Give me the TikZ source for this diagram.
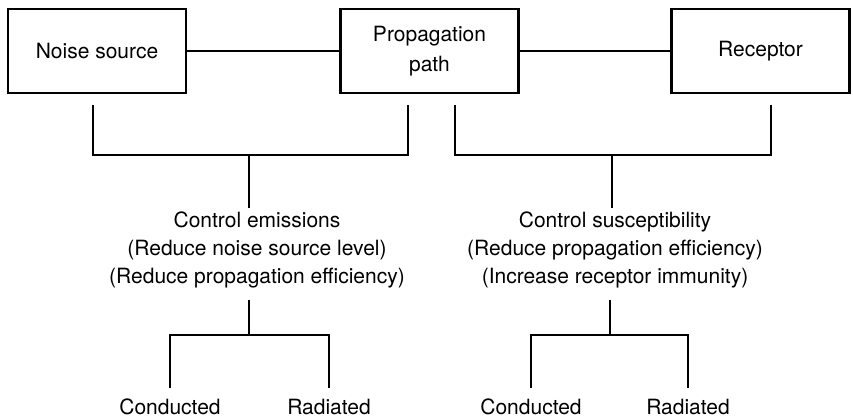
\documentclass[tikz,border=0pt]{standalone}
\usepackage{fontspec}
\setmainfont{TeX Gyre Heros}
\usetikzlibrary{positioning}

\begin{document}
\begin{tikzpicture}[x=1pt,y=-1pt,line width=2.9pt,
		font=\fontsize{21}{28}\selectfont,
		block/.style={rectangle,draw,minimum width=178pt,minimum height=84pt,
			align=center},
		note/.style={align=center,inner sep=0pt},
		leaf/.style={inner sep=0pt}]
	\useasboundingbox (0,0) rectangle (853,418);

	\node[block] (src) at (97,51) {Noise source};
	\node[block] (path) [right of=src,node distance=332.5pt] {Propagation\\[2pt]path};
	\node[block] (rec) [right of=path,node distance=331pt] {Receptor};

	\draw (src) -- (path);
	\draw (path) -- (rec);

	% emissions side
	\coordinate (ea) at (93,105);
	\coordinate (eb) at (408,105);
	\coordinate (ej) at (249,155);
	\node[note] (emit) at (257,250) {Control emissions\\(Reduce noise source level)\\(Reduce propagation efficiency)};
	\coordinate (ek) at (249,335);
	\node[leaf] (ec) at (170,407) {Conducted};
	\node[leaf] (er) at (329,407) {Radiated};

	\draw (ea) |- (ej) -| (eb);
	\draw (ej) -- ([yshift=2pt]emit.north -| ej);
	\draw ([yshift=-10pt]emit.south -| ek) -- (ek);
	\draw ([yshift=10pt]ec.north) |- (ek) -| ([yshift=10pt]er.north);

	% susceptibility side
	\coordinate (sa) at (455,105);
	\coordinate (sb) at (771,105);
	\coordinate (sj) at (612,155);
	\node[note] (susc) at (615,250) {Control susceptibility\\(Reduce propagation efficiency)\\(Increase receptor immunity)};
	\coordinate (sk) at (610,335);
	\node[leaf] (sc) at (531,407) {Conducted};
	\node[leaf] (sr) at (688,407) {Radiated};

	\draw (sa) |- (sj) -| (sb);
	\draw (sj) -- ([yshift=2pt]susc.north -| sj);
	\draw ([yshift=-10pt]susc.south -| sk) -- (sk);
	\draw ([yshift=10pt]sc.north) |- (sk) -| ([yshift=10pt]sr.north);
\end{tikzpicture}
\end{document}
